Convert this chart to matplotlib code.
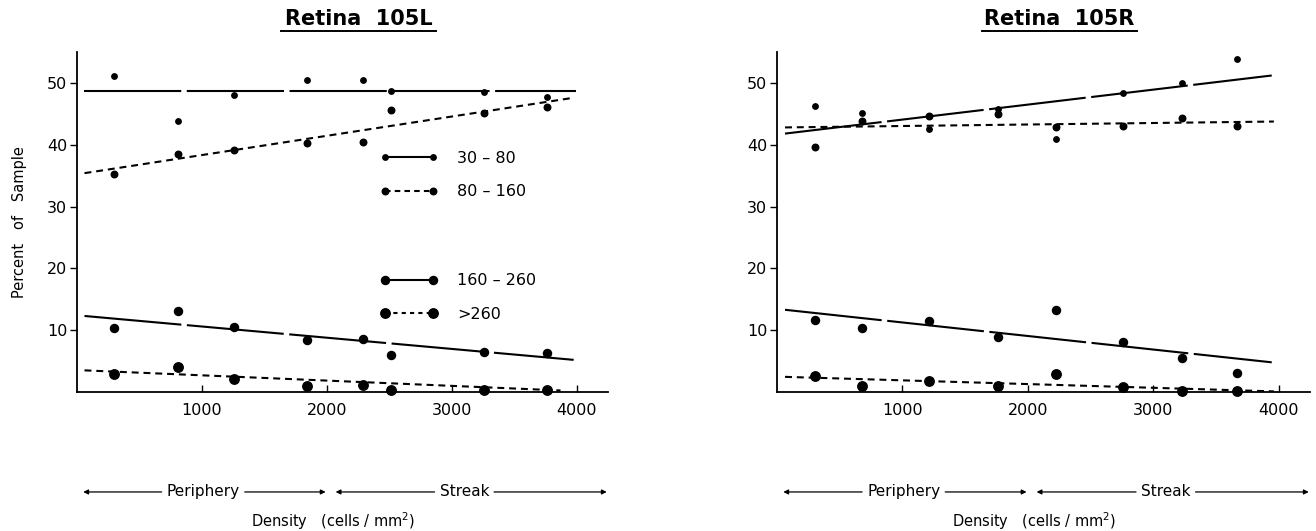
import matplotlib
matplotlib.use("Agg")
import matplotlib.pyplot as plt
from matplotlib.lines import Line2D
import matplotlib.transforms as mtransforms

plt.rcParams['font.family'] = ['DejaVu Sans']
plt.rcParams['lines.scale_dashes'] = False

# ---------------- data ----------------
series_labels = ["30 – 80", "80 – 160", "160 – 260", ">260"]
xticks = [1000, 2000, 3000, 4000]
yticks = [10, 20, 30, 40, 50]

# Retina 105L
xL = [300, 809, 1258, 1840, 2288, 2510, 3258, 3762]
L_30_80 = [51.1, 43.9, 48.0, 50.5, 50.5, 48.7, 48.6, 47.8]
L_80_160 = [35.3, 38.5, 39.1, 40.2, 40.5, 45.6, 45.2, 46.1]
L_160_260 = [10.4, 13.1, 10.5, 8.4, 8.5, 6.0, 6.5, 6.3]
L_gt260 = [2.9, 4.1, 2.1, 0.9, 1.2, 0.4, 0.4, 0.4]
# fitted lines (endpoints)
L_fit_x = [[60, 3990], [60, 3975], [60, 3975], [60, 3870]]
L_fit_y = [[48.7, 48.7], [35.4, 47.6], [12.3, 5.2], [3.5, 0.25]]

# Retina 105R
xR = [303, 677, 1211, 1765, 2223, 2757, 3226, 3670]
R_30_80 = [46.2, 45.2, 42.6, 45.7, 41.0, 48.4, 50.0, 53.9]
R_80_160 = [39.6, 43.9, 44.6, 44.9, 42.8, 43.0, 44.3, 43.0]
R_160_260 = [11.6, 10.3, 11.5, 8.9, 13.3, 8.1, 5.5, 3.0]
R_gt260 = [2.6, 1.0, 1.8, 1.0, 2.9, 0.85, 0.15, 0.15]
R_fit_x = [[64, 3945], [64, 3962], [64, 3945], [64, 3962]]
R_fit_y = [[41.8, 51.2], [42.8, 43.75], [13.3, 4.8], [2.45, 0.1]]

# ---------------- styles ----------------
msizes = [3.9, 4.7, 5.8, 6.8]
solid_dash = (0, (70, 4))
short_dash = (0, (5, 3.5))
lstyles = [solid_dash, short_dash, solid_dash, short_dash]
legend_ls = ['-', (0, (4, 3)), '-', (0, (3, 3))]
lw = 1.5

fig = plt.figure(figsize=(13.16, 5.31), dpi=100)
axL = fig.add_axes([77/1316, 1-392/531, 531/1316, 340/531])
axR = fig.add_axes([777/1316, 1-392/531, 533/1316, 340/531])

tick_font = dict(family='DejaVu Sans', size=11.5)
row_texts = []


def style_axes(ax):
    ax.set_xlim(0, 4250)
    ax.set_ylim(0, 55)
    ax.spines['top'].set_visible(False)
    ax.spines['right'].set_visible(False)
    ax.spines['left'].set_linewidth(1.3)
    ax.spines['bottom'].set_linewidth(1.3)
    ax.set_xticks(xticks)
    ax.set_yticks(yticks)
    ax.set_xticklabels([str(v) for v in xticks], fontdict=tick_font)
    ax.set_yticklabels([str(v) for v in yticks], fontdict=tick_font)
    ax.tick_params(axis='x', direction='in', length=5, width=1, pad=8)
    ax.tick_params(axis='y', direction='out', length=5, width=1, pad=2)


def draw_panel(ax, x, ys, fx, fy, title):
    for i, y in enumerate(ys):
        ax.plot(x, y, linestyle='none', marker='o', ms=msizes[i],
                color='black', clip_on=False, zorder=3)
        ax.plot(fx[i], fy[i], color='black', lw=lw, linestyle=lstyles[i],
                solid_capstyle='butt', zorder=2)
    style_axes(ax)
    # title with underline
    ax.text(0.53, 1.079, title, transform=ax.transAxes, ha='center',
            va='baseline', fontsize=15, fontweight='bold',
            family='DejaVu Sans')
    ax.plot([0.53 - 0.146, 0.53 + 0.146], [1.061, 1.061],
            transform=ax.transAxes, color='black', lw=1.4, clip_on=False)
    trans = mtransforms.blended_transform_factory(ax.transData, ax.transAxes)
    yrow = -0.294
    tp = ax.text(1010, yrow, 'Periphery', transform=trans, ha='center',
                 va='center', fontsize=11)
    ts = ax.text(3100, yrow, 'Streak', transform=trans, ha='center',
                 va='center', fontsize=11)
    row_texts.append((ax, trans, yrow, tp, ts))
    ax.text(2050, -0.38, 'Density   (cells / mm$^2$)', transform=trans,
            ha='center', va='center', fontsize=10.5)


draw_panel(axL, xL, [L_30_80, L_80_160, L_160_260, L_gt260],
           L_fit_x, L_fit_y, 'Retina  105L')
draw_panel(axR, xR, [R_30_80, R_80_160, R_160_260, R_gt260],
           R_fit_x, R_fit_y, 'Retina  105R')

axL.set_ylabel('Percent   of   Sample', fontsize=10.5, labelpad=14)

# legends (two groups)
handles = [Line2D([], [], color='black', lw=lw, linestyle=legend_ls[i],
                  marker='o', ms=msizes[i]) for i in range(4)]
leg_kw = dict(frameon=False, numpoints=2, handlelength=3.6,
              handletextpad=1.2, labelspacing=1.15, fontsize=11.5,
              borderaxespad=0, borderpad=0, loc='upper left',
              bbox_transform=axL.transData)
leg1 = axL.legend(handles[:2], series_labels[:2],
                  bbox_to_anchor=(2430, 39.0), **leg_kw)
axL.add_artist(leg1)
leg2 = axL.legend(handles[2:], series_labels[2:],
                  bbox_to_anchor=(2430, 19.2), **leg_kw)

# arrows of the Periphery / Streak row, drawn up to the text edges
fig.canvas.draw()
renderer = fig.canvas.get_renderer()
arrow = dict(arrowstyle='-|>', color='black', lw=0.9,
             mutation_scale=7, shrinkA=0, shrinkB=0)
for ax, trans, yrow, tp, ts in row_texts:
    inv = ax.transData.inverted()
    bp = tp.get_window_extent(renderer)
    bs = ts.get_window_extent(renderer)
    p0 = inv.transform((bp.x0 - 5, bp.y0))[0]
    p1 = inv.transform((bp.x1 + 5, bp.y0))[0]
    s0 = inv.transform((bs.x0 - 5, bs.y0))[0]
    s1 = inv.transform((bs.x1 + 5, bs.y0))[0]
    for head, tail in [(50, p0), (1990, p1), (2070, s0), (4240, s1)]:
        ax.annotate('', xy=(head, yrow), xytext=(tail, yrow), xycoords=trans,
                    textcoords=trans, arrowprops=arrow, annotation_clip=False)

fig.savefig('out.png', dpi=100)
